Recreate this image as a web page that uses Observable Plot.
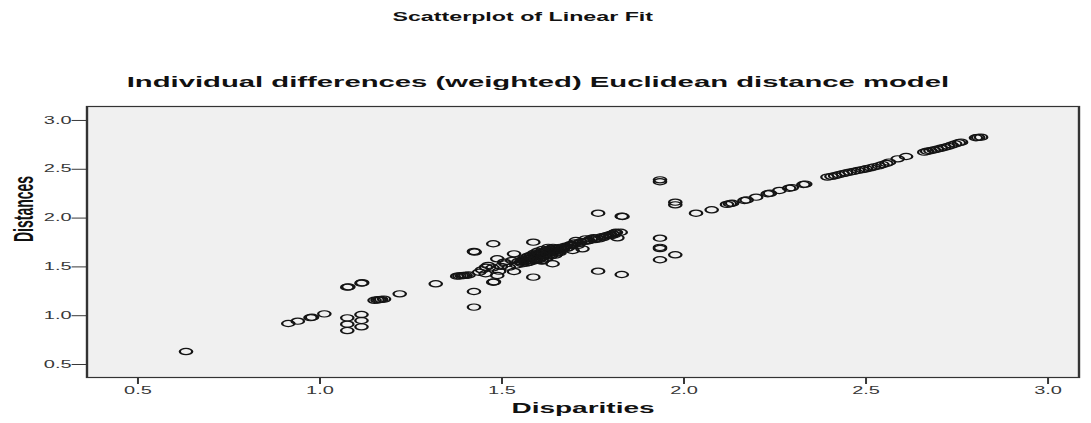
<!DOCTYPE html>
<html>
<head>
<meta charset="utf-8">
<script src="https://cdn.jsdelivr.net/npm/d3@7"></script>
<script src="https://cdn.jsdelivr.net/npm/@observablehq/plot@0.6"></script>
<style>
  html, body { margin: 0; padding: 0; background: #ffffff; }
  #wrap { position: relative; width: 1091px; height: 423px; overflow: hidden; font-family: "Liberation Sans", Arial, sans-serif; }
  .ttl { position: absolute; left: 0; text-align: center; font-weight: bold; white-space: nowrap; color: #111; }
  .ttl span { display: inline-block; transform-origin: 50% 50%; }
  #t1 { top: 10px; width: 1046px; font-size: 13.5px; line-height: 13.5px; }
  #t1 span { transform: scaleX(1.72); }
  #t2 { top: 74px; width: 1076px; font-size: 15px; line-height: 15px; }
  #t2 span { transform: scaleX(1.95); }
  #chart { position: absolute; left: 0; top: 96px; }
</style>
</head>
<body>
<div id="wrap">
  <div class="ttl" id="t1"><span id="title"></span></div>
  <div class="ttl" id="t2"><span id="subtitle"></span></div>
  <div id="chart"></div>
</div>
<script>
const titleText = "Scatterplot of Linear Fit";
const subtitleText = "Individual differences (weighted) Euclidean distance model";
const xLabel = "Disparities";
const yLabel = "Distances";
const xTicks = [0.5, 1.0, 1.5, 2.0, 2.5, 3.0];
const xTickLabels = ["0.5", "1.0", "1.5", "2.0", "2.5", "3.0"];
const yTicks = [0.5, 1.0, 1.5, 2.0, 2.5, 3.0];
const yTickLabels = ["0.5", "1.0", "1.5", "2.0", "2.5", "3.0"];

const disparities = [
  0.632, 0.913, 0.939, 0.974, 0.978, 1.012, 1.075, 1.078, 1.114, 1.116,
  1.075, 1.075, 1.075, 1.114, 1.114, 1.114, 1.150, 1.158, 1.163, 1.168,
  1.176, 1.219, 1.318,
  1.377, 1.383, 1.390, 1.395, 1.400, 1.408, 1.423, 1.425, 1.476, 1.423,
  1.423, 1.476, 1.478, 1.437, 1.445, 1.455, 1.456, 1.462, 1.474, 1.487,
  1.487, 1.492, 1.497, 1.506, 1.510, 1.519, 1.528, 1.533, 1.533, 1.540,
  1.545, 1.586, 1.586,
  1.552, 1.556, 1.560, 1.565, 1.570, 1.574, 1.578, 1.580, 1.585, 1.588,
  1.590, 1.595, 1.598, 1.600, 1.604, 1.608, 1.610, 1.612, 1.615, 1.620,
  1.622, 1.627, 1.630, 1.634, 1.639, 1.642, 1.645, 1.650, 1.655, 1.660,
  1.555, 1.562, 1.568, 1.572, 1.576, 1.583, 1.587, 1.592, 1.597, 1.602,
  1.606, 1.611, 1.617, 1.619, 1.624, 1.628, 1.632, 1.637, 1.640, 1.648,
  1.652, 1.657, 1.663,
  1.566, 1.579, 1.593, 1.601, 1.609, 1.614, 1.626, 1.636, 1.646, 1.658,
  1.668, 1.675, 1.683, 1.690, 1.694, 1.700, 1.703, 1.708, 1.715, 1.721,
  1.725, 1.730, 1.738, 1.745, 1.752, 1.760, 1.767, 1.775, 1.783, 1.790,
  1.797, 1.804, 1.810, 1.813, 1.817, 1.826, 1.764, 1.829, 1.831, 1.764,
  1.829, 1.670, 1.678, 1.686, 1.695, 1.712, 1.735, 1.755, 1.778, 1.800,
  1.808,
  1.934, 1.934, 1.976, 1.976, 1.934, 1.934, 1.934, 1.934, 1.976,
  2.033, 2.076, 2.118, 2.126, 2.132, 2.166, 2.172, 2.198, 2.230, 2.236,
  2.262, 2.289, 2.296, 2.328, 2.333,
  2.394, 2.405, 2.415, 2.425, 2.436, 2.445, 2.455, 2.466, 2.478, 2.490,
  2.500, 2.512, 2.522, 2.535, 2.545, 2.556, 2.563, 2.587, 2.610,
  2.660, 2.668, 2.677, 2.686, 2.695, 2.705, 2.715, 2.725, 2.735, 2.745,
  2.755, 2.761, 2.802, 2.808, 2.816
];

const distances = [
  0.633, 0.920, 0.944, 0.980, 0.984, 1.019, 1.292, 1.296, 1.333, 1.338,
  0.978, 0.913, 0.848, 1.012, 0.951, 0.886, 1.158, 1.162, 1.164, 1.167,
  1.170, 1.224, 1.327,
  1.405, 1.408, 1.410, 1.412, 1.413, 1.417, 1.658, 1.652, 1.737, 1.248,
  1.088, 1.343, 1.347, 1.445, 1.470, 1.430, 1.497, 1.515, 1.490, 1.583,
  1.412, 1.456, 1.505, 1.548, 1.531, 1.497, 1.566, 1.634, 1.453, 1.520,
  1.555, 1.753, 1.395,
  1.548, 1.532, 1.575, 1.560, 1.600, 1.545, 1.585, 1.620, 1.560, 1.640,
  1.600, 1.575, 1.660, 1.620, 1.590, 1.645, 1.560, 1.680, 1.615, 1.660,
  1.590, 1.700, 1.640, 1.612, 1.532, 1.665, 1.690, 1.640, 1.670, 1.700,
  1.565, 1.590, 1.540, 1.610, 1.570, 1.600, 1.580, 1.630, 1.610, 1.575,
  1.630, 1.600, 1.650, 1.625, 1.670, 1.615, 1.680, 1.655, 1.700, 1.660,
  1.690, 1.655, 1.680,
  1.555, 1.595, 1.585, 1.640, 1.565, 1.660, 1.635, 1.690, 1.620, 1.645,
  1.690, 1.712, 1.700, 1.730, 1.668, 1.745, 1.770, 1.720, 1.755, 1.685,
  1.760, 1.787, 1.770, 1.790, 1.800, 1.795, 1.787, 1.810, 1.815, 1.822,
  1.830, 1.839, 1.850, 1.855, 1.798, 1.855, 2.050, 2.020, 2.016, 1.456,
  1.422, 1.700, 1.690, 1.720, 1.725, 1.740, 1.765, 1.780, 1.800, 1.820,
  1.830,
  2.392, 2.372, 2.163, 2.136, 1.794, 1.700, 1.688, 1.573, 1.624,
  2.050, 2.085, 2.140, 2.148, 2.152, 2.180, 2.186, 2.214, 2.249, 2.254,
  2.283, 2.306, 2.312, 2.344, 2.348,
  2.420, 2.428, 2.434, 2.445, 2.455, 2.462, 2.470, 2.478, 2.488, 2.496,
  2.505, 2.515, 2.525, 2.535, 2.548, 2.560, 2.573, 2.607, 2.631,
  2.675, 2.685, 2.690, 2.698, 2.705, 2.715, 2.725, 2.735, 2.748, 2.760,
  2.772, 2.778, 2.823, 2.826, 2.829
];

document.getElementById("title").textContent = titleText;
document.getElementById("subtitle").textContent = subtitleText;

const points = disparities.map((x, i) => ({x, y: distances[i]}));

// The reference is stretched horizontally; draw at half width, then stretch the SVG.
const K = 2;
const fullW = 1091, H = 327;
const W = fullW / K;

const plot = Plot.plot({
  width: W,
  height: H,
  marginLeft: 43,
  marginRight: 6.5,
  marginTop: 10,
  marginBottom: 46,
  x: {domain: [0.36, 3.085]},
  y: {domain: [0.367, 3.143]},
  style: {fontFamily: "'Liberation Sans', Arial, sans-serif", fontSize: "10px", color: "#383838", background: "transparent"},
  marks: [
    Plot.frame({fill: "#f0f0f0", stroke: "none"}),
    Plot.axisX({ticks: xTicks, tickFormat: (d, i) => xTickLabels[i], tickSize: 7, tickPadding: 2, label: null}),
    Plot.axisY({ticks: yTicks, tickFormat: (d, i) => yTickLabels[i], tickSize: 7.2, tickPadding: 0.5, label: null}),
    Plot.dot(points, {x: "x", y: "y", r: 3.1, stroke: "#141414", strokeWidth: 1.15, fill: "none"}),
    Plot.frame({stroke: "#333", strokeWidth: 1.2}),
    Plot.text([xLabel], {text: d => d, frameAnchor: "bottom", dy: 35.5, fontWeight: "bold", fontSize: 14, fill: "#111"}),
    Plot.text([yLabel], {text: d => d, frameAnchor: "left", rotate: -90, dx: -31.4, fontWeight: "bold", fontSize: 14, fill: "#111"})
  ]
});

plot.setAttribute("width", fullW);
plot.setAttribute("height", H);
plot.setAttribute("preserveAspectRatio", "none");
plot.style.width = fullW + "px";
plot.style.height = H + "px";
plot.style.maxWidth = "none";
document.getElementById("chart").appendChild(plot);
</script>
</body>
</html>
